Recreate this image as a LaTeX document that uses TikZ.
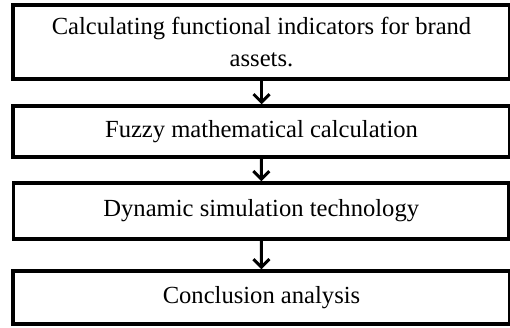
\documentclass[tikz,border=0pt]{standalone}
\usepackage{fontspec}
\setmainfont{Liberation Serif}
\usetikzlibrary{arrows.meta}
\begin{document}
\begin{tikzpicture}[x=1pt,y=-1pt,
  stepbox/.style={draw=black,line width=3.5pt,fill=white,inner sep=0pt,
    align=center,font=\fontsize{24.6}{32}\selectfont},
  flowarrow/.style={line width=3pt,-{Straight Barb[length=8pt,width=16pt,line width=3pt]}}]
\useasboundingbox[fill=white] (0,0) rectangle (510,327);
\node[stepbox,minimum width=497pt,minimum height=74pt] (b1) at (261.5,42) {Calculating functional indicators for brand\\assets.};
\node[stepbox,minimum width=497pt,minimum height=51pt] (b2) at (261.5,131.5) {Fuzzy mathematical calculation};
\node[stepbox,minimum width=495.5pt,minimum height=56pt] (b3) at (261.25,211) {Dynamic simulation technology};
\node[stepbox,minimum width=497pt,minimum height=53pt] (b4) at (261.5,297.5) {Conclusion analysis};
\draw[flowarrow] (b1.south) -- (b2.north);
\draw[flowarrow] (b2.south) -- (b3.north);
\draw[flowarrow] (b3.south) -- (b4.north);
\end{tikzpicture}
\end{document}
